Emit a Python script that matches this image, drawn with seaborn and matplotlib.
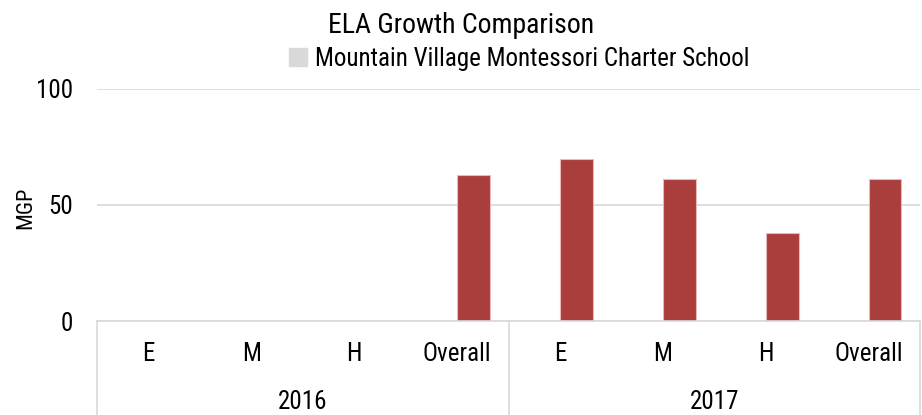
import numpy as np
import pandas as pd
import matplotlib
matplotlib.use('Agg')
import matplotlib.pyplot as plt
from matplotlib.patches import Patch
import seaborn as sns

# ---------------------------------------------------------------
# Data
# ---------------------------------------------------------------
years = ['2016', '2016', '2016', '2016', '2017', '2017', '2017', '2017']
levels = ['E', 'M', 'H', 'Overall', 'E', 'M', 'H', 'Overall']
mgp = [np.nan, np.nan, np.nan, 63, 70, 61, 38, 61]
# empty companion series that takes the left half of every cluster
blank = [np.nan] * 8
school = 'Mountain Village Montessori Charter School'

BAR = '#A93E3C'
GRID = '#D9D9D9'

slots = [y + ' ' + l for y, l in zip(years, levels)]
df = pd.DataFrame({
    'slot': slots * 2,
    'year': years * 2,
    'series': ['blank'] * 8 + [school] * 8,
    'mgp': blank + mgp,
})

sns.set_style('white')
plt.rcParams['font.family'] = ['Arial Narrow', 'Roboto Condensed', 'Liberation Sans', 'DejaVu Sans']
for k in ['text.color', 'axes.labelcolor', 'xtick.color', 'ytick.color']:
    plt.rcParams[k] = 'black'

W, H = 922, 415
fig = plt.figure(figsize=(W / 100, H / 100), dpi=100)
ax = fig.add_axes([97 / W, 1 - 321 / H, (920 - 97) / W, (321 - 89) / H])

sns.barplot(data=df, x='slot', y='mgp', hue='series', order=slots,
            hue_order=['blank', school], palette={'blank': GRID, school: BAR},
            saturation=1, width=0.64, errorbar=None, legend=False,
            edgecolor='#E9B9B8', linewidth=0.8, ax=ax)

ax.set_ylim(0, 100)
ax.set_xlim(-0.5, len(slots) - 0.5)
ax.set_yticks([0, 50, 100])
ax.yaxis.grid(True, color=GRID, linewidth=1.2)
ax.set_axisbelow(True)
for s in ['top', 'right', 'left']:
    ax.spines[s].set_visible(False)
ax.spines['bottom'].set_color(GRID)
ax.spines['bottom'].set_linewidth(1.2)

ax.set_xticks(range(len(slots)))
ax.set_xticklabels(levels)
ax.tick_params(axis='x', length=0, pad=15, labelsize=18)
ax.tick_params(axis='y', length=0, pad=17, labelsize=18)
ax.set_xlabel('')
ax.set_ylabel('MGP', fontsize=16)
ax.yaxis.set_label_coords((36 - 97) / 823, 0.49)

# year group labels and separators below the axis
trans = ax.get_xaxis_transform()
low = -(H - 321) / (321 - 89)
groups = pd.Series(years).value_counts(sort=False)
start = 0
ax.plot([-0.5, -0.5], [0, low], transform=trans, color=GRID, lw=1.2, clip_on=False)
for yr, n in groups.items():
    ax.text(start + (n - 1) / 2, -(409 - 321) / (321 - 89), yr, transform=trans,
            ha='center', va='baseline', fontsize=18)
    start += n
    ax.plot([start - 0.5, start - 0.5], [0, low], transform=trans,
            color=GRID, lw=1.2, clip_on=False)

fig.text(0.5, 1 - 33 / H, 'ELA Growth Comparison', ha='center', va='baseline', fontsize=20)
fig.legend(handles=[Patch(facecolor=GRID, edgecolor=GRID)], labels=[school],
           loc='center', bbox_to_anchor=(519 / W, 1 - 59 / H), frameon=False,
           fontsize=18, handlelength=0.75, handleheight=0.75, handletextpad=0.3)

fig.savefig('out.png', dpi=100)
